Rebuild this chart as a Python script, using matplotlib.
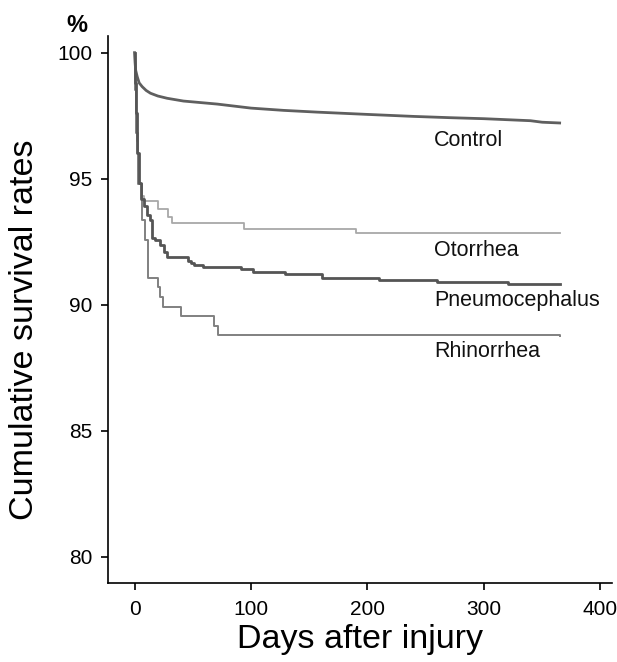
import numpy as np
import matplotlib
matplotlib.use("Agg")
import matplotlib.pyplot as plt

plt.rcParams['font.family'] = ['Liberation Sans', 'DejaVu Sans']

# Kaplan-Meier style curves (days, survival %)
control_days = [0, 0.5, 1, 2.3, 4, 6.6, 10, 13.7, 20, 28, 42, 71, 100, 128, 157, 200, 240, 271, 300, 340, 350, 365]
control_surv = [100, 99.6, 99.3, 99.05, 98.8, 98.65, 98.5, 98.39, 98.28, 98.19, 98.08, 97.96, 97.8, 97.71, 97.64, 97.55, 97.47, 97.42, 97.38, 97.3, 97.24, 97.21]

oto_days = [0, 0.5, 1, 2, 3, 4, 6, 8, 20.5, 28.6, 32, 94.4, 190, 365]
oto_surv = [100, 99.0, 97.5, 96.5, 95.3, 94.8, 94.3, 94.1, 93.8, 93.5, 93.25, 93.02, 92.85, 92.85]

pneu_days = [0, 0.5, 1, 2, 3.7, 5.7, 8, 10.9, 13.7, 15.2, 18, 22.3, 25, 28, 45.8, 48.6, 51, 59, 91, 102, 129.6, 161, 210, 260, 321, 365]
pneu_surv = [100, 98.8, 97.6, 96.0, 94.83, 94.2, 93.9, 93.56, 93.36, 92.63, 92.56, 92.37, 92.1, 91.9, 91.75, 91.64, 91.58, 91.48, 91.4, 91.31, 91.22, 91.07, 90.97, 90.92, 90.82, 90.82]

rhino_days = [0, 0.5, 1.5, 3, 6, 9.4, 12, 20, 22.3, 24.6, 40.3, 68, 71.8, 365]
rhino_surv = [100, 98.5, 96.8, 94.8, 93.36, 92.56, 91.05, 90.71, 90.32, 89.92, 89.56, 89.17, 88.8, 88.77]

labels = ['Control', 'Otorrhea', 'Pneumocephalus', 'Rhinorrhea']
label_y = [96.5, 92.17, 90.18, 88.15]

fig = plt.figure(figsize=(6.17, 6.62), dpi=100)
ax = fig.add_axes([0.1746, 0.1193, 0.8174, 0.8263])

ax.plot(control_days, control_surv, color='#5f5f5f', lw=2.0)
ax.step(oto_days, oto_surv, where='post', color='#a8a8a8', lw=1.3)
ax.step(rhino_days, rhino_surv, where='post', color='#808080', lw=1.4)
ax.step(pneu_days, pneu_surv, where='post', color='#555555', lw=2.0)

for lab, yy in zip(labels, label_y):
    ax.text(257, yy, lab, fontsize=15.5, va='center', ha='left', color='#111111')

ax.set_xlim(-23, 410)
ax.set_ylim(78.96, 100.66)
ax.set_xticks([0, 100, 200, 300, 400])
ax.set_yticks([80, 85, 90, 95, 100])
ax.spines['top'].set_visible(False)
ax.spines['right'].set_visible(False)
ax.spines['left'].set_linewidth(1.2)
ax.spines['bottom'].set_linewidth(1.2)
ax.tick_params(direction='out', length=5, width=1.2, labelsize=15)
ax.tick_params(axis='y', pad=6)
ax.tick_params(axis='x', pad=7)

ax.set_xlabel('Days after injury', fontsize=24.5, labelpad=4)
ax.set_ylabel('Cumulative survival rates', fontsize=24.5, labelpad=10)
ax.yaxis.set_label_coords(-0.135, 0.4625)
fig.text(0.125, 0.961, '%', fontsize=17, fontweight='bold', ha='center', va='center')

fig.savefig('out.png', dpi=100)
